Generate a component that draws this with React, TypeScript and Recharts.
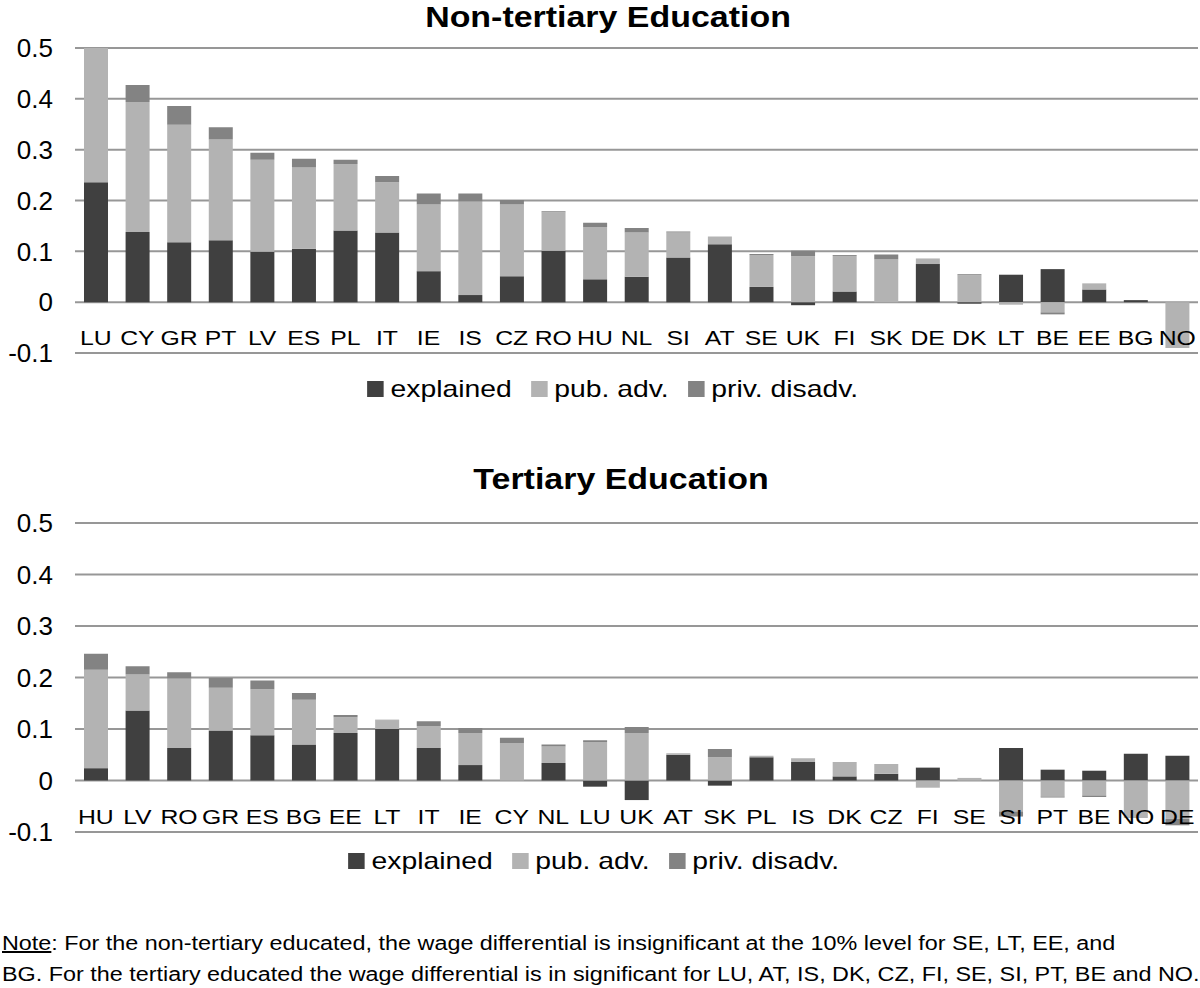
import React from 'react';
import { BarChart, Bar, XAxis, YAxis, CartesianGrid } from 'recharts';

// Categories and values
const nonTertiaryCountries = ['LU', 'CY', 'GR', 'PT', 'LV', 'ES', 'PL', 'IT', 'IE', 'IS', 'CZ', 'RO', 'HU', 'NL', 'SI', 'AT', 'SE', 'UK', 'FI', 'SK', 'DE', 'DK', 'LT', 'BE', 'EE', 'BG', 'NO'];
const ntExplained = [0.236, 0.138, 0.118, 0.122, 0.099, 0.105, 0.141, 0.137, 0.061, 0.014, 0.051, 0.101, 0.045, 0.05, 0.088, 0.114, 0.03, -0.006, 0.021, 0, 0.075, -0.003, 0.054, 0.065, 0.025, 0.004, 0];
const ntPubAdv = [0.264, 0.256, 0.231, 0.198, 0.181, 0.16, 0.131, 0.099, 0.131, 0.184, 0.141, 0.076, 0.103, 0.087, 0.049, 0.015, 0.063, 0.09, 0.07, 0.084, 0.011, 0.053, -0.005, -0.02, 0.012, 0, -0.09];
const ntPrivDisadv = [0, 0.033, 0.037, 0.024, 0.014, 0.017, 0.008, 0.012, 0.022, 0.016, 0.009, 0.002, 0.008, 0.009, 0.002, 0, 0.002, 0.011, 0.002, 0.01, 0, 0.002, 0, -0.004, 0, 0, 0];

const tertiaryCountries = ['HU', 'LV', 'RO', 'GR', 'ES', 'BG', 'EE', 'LT', 'IT', 'IE', 'CY', 'NL', 'LU', 'UK', 'AT', 'SK', 'PL', 'IS', 'DK', 'CZ', 'FI', 'SE', 'SI', 'PT', 'BE', 'NO', 'DE'];
const tExplained = [0.024, 0.136, 0.063, 0.097, 0.088, 0.07, 0.092, 0.1, 0.063, 0.03, 0, 0.034, -0.012, -0.038, 0.05, -0.01, 0.045, 0.036, 0.008, 0.013, 0.025, 0, 0.063, 0.021, 0.019, 0.052, 0.048];
const tPubAdv = [0.191, 0.07, 0.135, 0.083, 0.089, 0.087, 0.031, 0.017, 0.043, 0.062, 0.073, 0.032, 0.075, 0.092, 0.003, 0.045, 0.003, 0.007, 0.028, 0.019, -0.014, 0.005, -0.06, -0.031, -0.029, -0.073, -0.074];
const tPrivDisadv = [0.031, 0.016, 0.012, 0.019, 0.017, 0.013, 0.004, 0.001, 0.009, 0.01, 0.01, 0.004, 0.003, 0.012, 0, 0.016, 0, 0, 0, 0, 0, 0, -0.01, -0.002, -0.003, 0, -0.013];

const yTicks = [-0.1, 0, 0.1, 0.2, 0.3, 0.4, 0.5];
const seriesNames = ['explained', 'pub. adv.', 'priv. disadv.'];
const seriesColors = ['#404040', '#b3b3b3', '#838383'];

const FONT = '"Liberation Sans", Arial, Helvetica, sans-serif';

const buildRows = (countries: string[], a: number[], b: number[], c: number[]) =>
  countries.map((country, i) => ({ country, explained: a[i], pub: b[i], priv: c[i] }));

const nonTertiaryData = buildRows(nonTertiaryCountries, ntExplained, ntPubAdv, ntPrivDisadv);
const tertiaryData = buildRows(tertiaryCountries, tExplained, tPubAdv, tPrivDisadv);

// country labels sit inside the plot, between the 0 and -0.1 lines
// (the source figure is stretched sideways, hence the scaleX)
const CountryTick = (props: any) => {
  const { x, y, payload } = props;
  return (
    <text
      transform={`translate(${x},${y - 8}) scale(1.18,1)`}
      x={0}
      y={0}
      textAnchor="middle"
      fontSize={21}
      fill="#000"
      fontFamily={FONT}
    >
      {payload.value}
    </text>
  );
};

function DecompChart({ data, height, marginTop, marginBottom }: any) {
  return (
    <BarChart
      width={1200}
      height={height}
      data={data}
      stackOffset="sign"
      margin={{ top: marginTop, right: 2, left: 0, bottom: marginBottom - 30 }}
    >
      <CartesianGrid vertical={false} stroke="#979797" strokeWidth={2} />
      <XAxis
        dataKey="country"
        interval={0}
        axisLine={false}
        tickLine={false}
        tickSize={0}
        tickMargin={0}
        height={30}
        tick={<CountryTick />}
      />
      <YAxis
        width={75}
        domain={[-0.1, 0.5]}
        ticks={yTicks}
        allowDataOverflow
        axisLine={false}
        tickLine={false}
        tickSize={0}
        tickMargin={22}
        tick={{ fontSize: 26, fill: '#000', fontFamily: FONT }}
      />
      <Bar dataKey="explained" stackId="a" fill={seriesColors[0]} barSize={24} isAnimationActive={false} />
      <Bar dataKey="pub" stackId="a" fill={seriesColors[1]} barSize={24} isAnimationActive={false} />
      <Bar dataKey="priv" stackId="a" fill={seriesColors[2]} barSize={24} isAnimationActive={false} />
    </BarChart>
  );
}

function LegendRow({ top, centerX }: { top: number; centerX: number }) {
  return (
    <div
      style={{
        position: 'absolute',
        top,
        left: centerX - 400,
        width: 800,
        display: 'flex',
        justifyContent: 'center',
        alignItems: 'center',
        fontSize: 24,
        fontFamily: FONT,
        color: '#000',
        transform: 'scaleX(1.18)',
      }}
    >
      {seriesNames.map((name, i) => (
        <div key={name} style={{ display: 'flex', alignItems: 'center', marginRight: 16 }}>
          <span style={{ display: 'inline-block', width: 14, height: 16, background: seriesColors[i], marginRight: 6 }} />
          <span>{name}</span>
        </div>
      ))}
    </div>
  );
}

const titleStyle = (top: number, centerX: number): React.CSSProperties => ({
  position: 'absolute',
  top,
  left: centerX - 300,
  width: 600,
  textAlign: 'center',
  fontWeight: 'bold',
  fontSize: 29,
  fontFamily: FONT,
  color: '#000',
  transform: 'scaleX(1.17)',
});

export default function App() {
  return (
    <div style={{ position: 'absolute', left: 0, top: 0, width: 1200, height: 988, background: '#fff', overflow: 'hidden' }}>
      <div style={titleStyle(1, 608)}>Non-tertiary Education</div>
      <div style={{ position: 'absolute', top: 0, left: 0 }}>
        <DecompChart data={nonTertiaryData} height={420} marginTop={48} marginBottom={67} />
      </div>
      <LegendRow top={375} centerX={622} />

      <div style={titleStyle(463, 621)}>Tertiary Education</div>
      <div style={{ position: 'absolute', top: 470, left: 0 }}>
        <DecompChart data={tertiaryData} height={400} marginTop={53} marginBottom={38} />
      </div>
      <LegendRow top={847} centerX={603} />

      <div
        style={{
          position: 'absolute',
          top: 928,
          left: 2,
          width: 1200,
          fontSize: 20,
          lineHeight: '31px',
          fontFamily: FONT,
          color: '#000',
          whiteSpace: 'nowrap',
          transform: 'scaleX(1.168)',
          transformOrigin: 'left top',
        }}
      >
        <div>
          <span style={{ textDecoration: 'underline' }}>Note</span>: For the non-tertiary educated, the wage differential is insignificant at the 10% level for SE, LT, EE, and
        </div>
        <div>
          BG. For the tertiary educated the wage differential is in significant for LU, AT, IS, DK, CZ, FI, SE, SI, PT, BE and NO.
        </div>
      </div>
    </div>
  );
}
